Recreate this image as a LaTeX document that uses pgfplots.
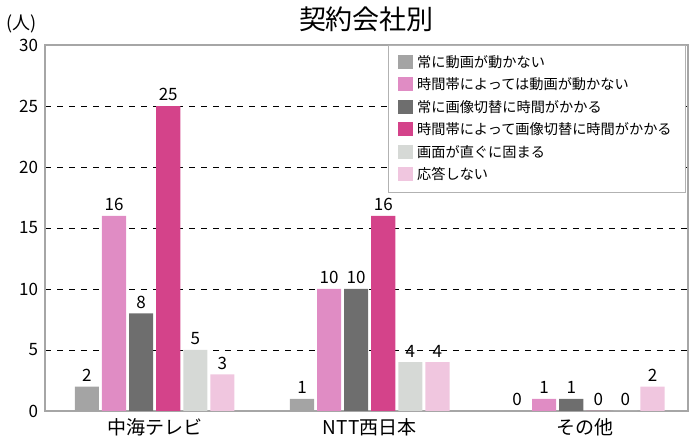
\documentclass[border=0pt]{standalone}
\usepackage{pgfplots}
\pgfplotsset{compat=1.18}
\usepackage{fontspec}
\setmainfont{Noto Sans CJK JP}
\definecolor{s1}{HTML}{A4A4A4}
\definecolor{s2}{HTML}{E08CC4}
\definecolor{s3}{HTML}{6E6E6E}
\definecolor{s4}{HTML}{D4438A}
\definecolor{s5}{HTML}{D6D9D6}
\definecolor{s6}{HTML}{F0C6DF}
\begin{document}
\begin{tikzpicture}
\begin{axis}[
  scale only axis,
  width=321.5pt, height=183pt,
  ybar,
  xmin=-0.51, xmax=2.48,
  ymin=0, ymax=30,
  ytick={0,5,...,30},
  xtick={0,1,2},
  xticklabels={中海テレビ,NTT西日本,その他},
  tick style={draw=none},
  axis line style={draw=gray!70, line width=0.8pt},
  ymajorgrids,
  grid style={dashed, black, line width=0.4pt},
  /pgf/number format/assume math mode=true,
  tick label style={font=\fontsize{8.5pt}{10pt}\selectfont},
  xticklabel style={font=\fontsize{9.5pt}{11pt}\selectfont, yshift=4pt},
  title={契約会社別},
  title style={font=\fontsize{13.5pt}{16pt}\selectfont, yshift=-3pt},
  bar width=0.112,
  nodes near coords,
  every node near coord/.append style={font=\fontsize{8.5pt}{10pt}\selectfont, /pgf/number format/assume math mode=true, yshift=-1pt},
  legend style={at={(rel axis cs:0.997,1)}, anchor=north east, draw=gray!60, font=\fontsize{7.1pt}{8.5pt}\selectfont, row sep=-0.3pt, inner xsep=5pt, inner ysep=3pt, cells={anchor=west}},
  legend image code/.code={\fill[#1] (0pt,-3pt) rectangle (7.5pt,4pt);},
  clip=false,
]
\addplot[fill=s1, draw=none, bar shift=-0.315] coordinates {(0,2) (1,1) (2,0)};
\addplot[fill=s2, draw=none, bar shift=-0.189] coordinates {(0,16) (1,10) (2,1)};
\addplot[fill=s3, draw=none, bar shift=-0.063] coordinates {(0,8) (1,10) (2,1)};
\addplot[fill=s4, draw=none, bar shift=0.063] coordinates {(0,25) (1,16) (2,0)};
\addplot[fill=s5, draw=none, bar shift=0.189] coordinates {(0,5) (1,4) (2,0)};
\addplot[fill=s6, draw=none, bar shift=0.315] coordinates {(0,3) (1,4) (2,2)};
\legend{常に動画が動かない,時間帯によっては動画が動かない,常に画像切替に時間がかかる,時間帯によって画像切替に時間がかかる,画面が直ぐに固まる,応答しない}
\node[anchor=south east, font=\fontsize{9pt}{10pt}\selectfont, inner sep=0pt] at ([xshift=-4pt,yshift=6pt]rel axis cs:0,1) {(人)};
\path (rel axis cs:-0.07,-0.0874) rectangle (rel axis cs:1.0047,1.123);
\end{axis}
\end{tikzpicture}
\end{document}
